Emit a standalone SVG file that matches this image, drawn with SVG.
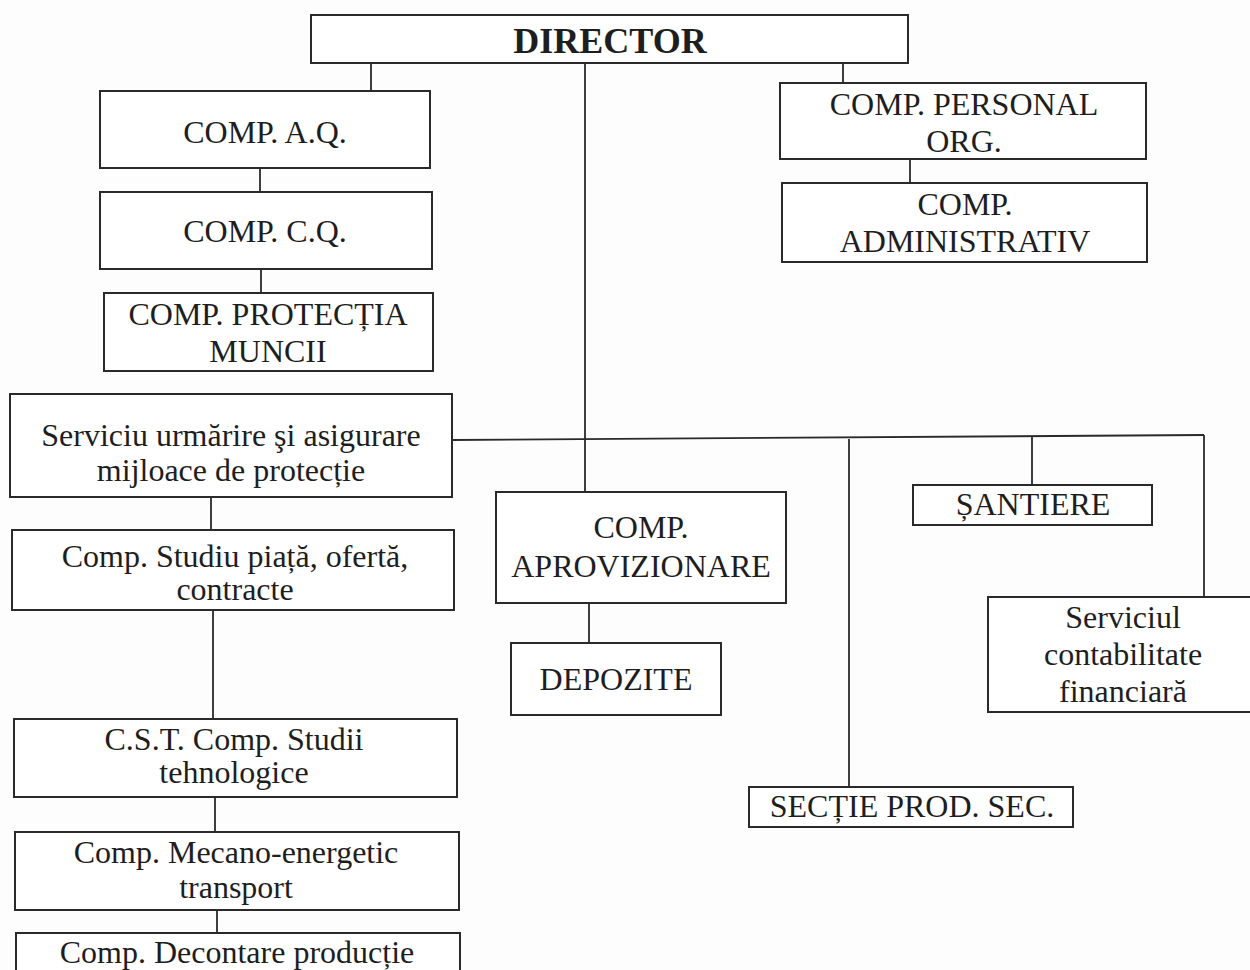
<svg xmlns="http://www.w3.org/2000/svg" width="1250" height="970" viewBox="0 0 1250 970">
<style>
.b{fill:#fff;stroke:#2a2a2a;stroke-width:2}
.t{font-family:"Liberation Serif","Times New Roman",serif;font-size:32px;fill:#1e1e1e;text-anchor:middle}
.h{font-weight:bold;font-size:36px}
.c{fill:none;stroke:#2a2a2a;stroke-width:1.8}
</style>
<rect width="1250" height="970" fill="#fdfdfd"/>
<g id="connectors">
<path class="c" d="M371 63V91"/>
<path class="c" d="M260 168V192"/>
<path class="c" d="M261 269V293"/>
<path class="c" d="M585 62V492"/>
<path class="c" d="M843 61V84"/>
<path class="c" d="M910 159V183"/>
<path class="c" d="M452 440L1204 435"/>
<path class="c" d="M211 497V530"/>
<path class="c" d="M213 610V719"/>
<path class="c" d="M215 797V832"/>
<path class="c" d="M217 910V933"/>
<path class="c" d="M589 603V643"/>
<path class="c" d="M849 439V787"/>
<path class="c" d="M1032 437V485"/>
<path class="c" d="M1204 435V597"/>
</g>
<g id="director"><rect class="b" x="311" y="15" width="597" height="48"/><text class="t h" x="610" y="53">DIRECTOR</text></g>
<g id="comp-aq"><rect class="b" x="100" y="91" width="330" height="77"/><text class="t" x="265" y="143">COMP. A.Q.</text></g>
<g id="comp-cq"><rect class="b" x="100" y="192" width="332" height="77"/><text class="t" x="265" y="242">COMP. C.Q.</text></g>
<g id="comp-protectia"><rect class="b" x="104" y="293" width="329" height="78"/><text class="t" x="268" y="325">COMP. PROTECȚIA</text><text class="t" x="268" y="362">MUNCII</text></g>
<g id="comp-personal"><rect class="b" x="780" y="83" width="366" height="76"/><text class="t" x="964" y="115">COMP. PERSONAL</text><text class="t" x="964" y="152">ORG.</text></g>
<g id="comp-administrativ"><rect class="b" x="782" y="183" width="365" height="79"/><text class="t" x="965" y="215">COMP.</text><text class="t" x="965" y="252">ADMINISTRATIV</text></g>
<g id="serviciu-urmarire"><rect class="b" x="10" y="394" width="442" height="103"/><text class="t" x="231" y="446">Serviciu urmărire şi asigurare</text><text class="t" x="231" y="481">mijloace de protecție</text></g>
<g id="comp-studiu"><rect class="b" x="12" y="530" width="442" height="80"/><text class="t" x="235" y="567">Comp. Studiu piață, ofertă,</text><text class="t" x="235" y="600">contracte</text></g>
<g id="comp-aprovizionare"><rect class="b" x="496" y="492" width="290" height="111"/><text class="t" x="641" y="538">COMP.</text><text class="t" x="641" y="577">APROVIZIONARE</text></g>
<g id="depozite"><rect class="b" x="511" y="643" width="210" height="72"/><text class="t" x="616" y="690">DEPOZITE</text></g>
<g id="santiere"><rect class="b" x="913" y="485" width="239" height="40"/><text class="t" x="1033" y="515">ȘANTIERE</text></g>
<g id="serviciul-contabilitate"><rect class="b" x="988" y="597" width="272" height="115"/><text class="t" x="1123" y="628">Serviciul</text><text class="t" x="1123" y="665">contabilitate</text><text class="t" x="1123" y="702">financiară</text></g>
<g id="sectie-prod"><rect class="b" x="749" y="787" width="324" height="40"/><text class="t" x="912" y="817">SECȚIE PROD. SEC.</text></g>
<g id="cst"><rect class="b" x="14" y="719" width="443" height="78"/><text class="t" x="234" y="750">C.S.T. Comp. Studii</text><text class="t" x="234" y="783">tehnologice</text></g>
<g id="comp-mecano"><rect class="b" x="15" y="832" width="444" height="78"/><text class="t" x="236" y="863">Comp. Mecano-energetic</text><text class="t" x="236" y="898">transport</text></g>
<g id="comp-decontare"><rect class="b" x="16" y="933" width="444" height="50"/><text class="t" x="237" y="963">Comp. Decontare producție</text></g>
</svg>
